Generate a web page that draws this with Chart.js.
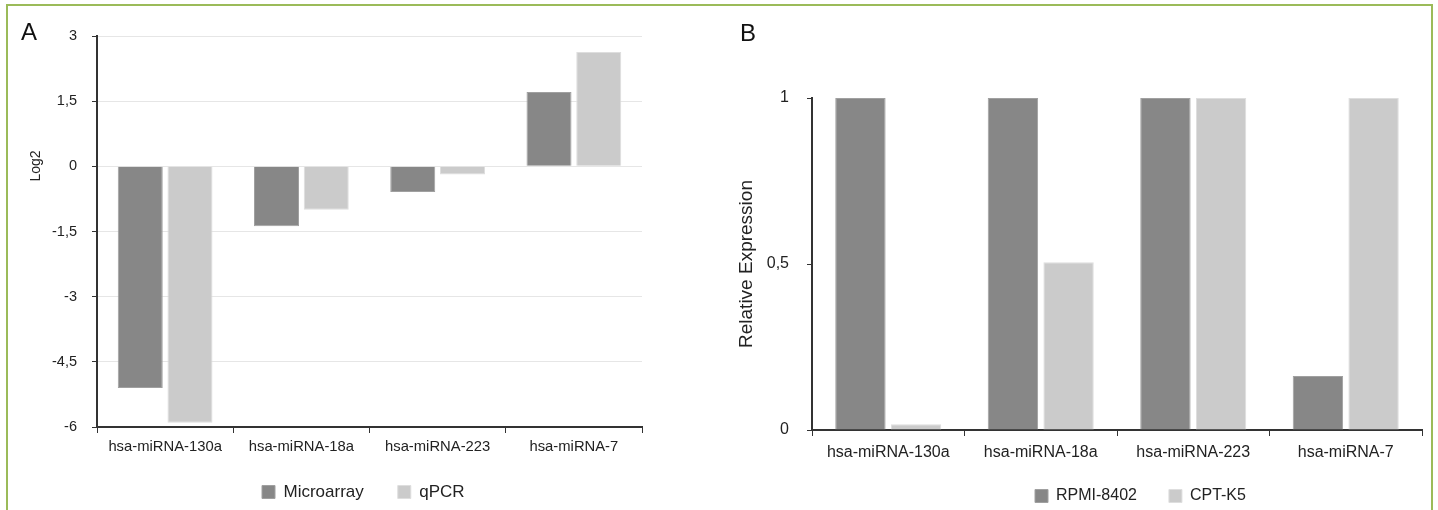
<!DOCTYPE html>
<html><head><meta charset="utf-8">
<script src="https://cdn.jsdelivr.net/npm/chart.js@4.4.0/dist/chart.umd.min.js"></script>
<style>
html,body{margin:0;padding:0;background:#fff;width:1438px;height:510px;overflow:hidden;font-family:'Liberation Sans',Arial,sans-serif;}
#frame{position:absolute;left:6px;top:4px;width:1423px;height:620px;border:2px solid #9bbb59;}
.wrap{position:absolute;top:0;height:510px;}
#wa{left:0;width:720px}
#wb{left:720px;width:718px}
.plbl{position:absolute;color:#111;font-size:24px;line-height:1;}
#log2{position:absolute;left:35px;top:166px;transform:translate(-50%,-50%) rotate(-90deg);font-size:14px;color:#222;white-space:nowrap;line-height:1;}
</style></head>
<body>
<div id="frame"></div>
<div class="wrap" id="wa"><canvas id="ca" width="720" height="510"></canvas></div>
<div class="wrap" id="wb"><canvas id="cb" width="718" height="510"></canvas></div>
<div class="plbl" style="left:21px;top:20px">A</div>
<div class="plbl" style="left:740px;top:21px">B</div>
<div id="log2">Log2</div>
<script>
// ---- data ----
const categories = ['hsa-miRNA-130a', 'hsa-miRNA-18a', 'hsa-miRNA-223', 'hsa-miRNA-7'];
const microarray = [-5.1, -1.38, -0.59, 1.71];
const qpcr = [-5.9, -1.0, -0.19, 2.63];
const rpmi8402 = [1, 1, 1, 0.163];
const cptK5 = [0.017, 0.505, 1, 1];
const log2Ticks = [-6, -4.5, -3, -1.5, 0, 1.5, 3];
const relTicks = [0, 0.5, 1];
const seriesA = ['Microarray', 'qPCR'];
const seriesB = ['RPMI-8402', 'CPT-K5'];

// ---- style ----
const FONT = "'Liberation Sans', Arial, sans-serif";
const DARK = '#878787', DARK_EDGE = '#a0a0a0';
const LIGHT = '#cbcbcb', LIGHT_EDGE = '#dedede';
const AXIS = '#333333', GRID = '#e6e6e6', TXT = '#222222';
const H = 510;
const X_AXIS_H = 45;

const fmt = v => String(v).replace('.', ',');

const legendPlacer = {
  id: 'legendPlacer',
  afterLayout(chart, args, opts) {
    const lg = chart.legend;
    if (!lg || opts.x == null) return;
    const pad = opts.pad, itemH = Math.max(opts.fs, opts.box);
    const dx = opts.x - (lg.left + pad);
    const dy = opts.cy - (lg.top + pad + itemH / 2);
    lg.left += dx; lg.right += dx; lg.top += dy;
    lg.bottom = lg.top + 400; // keep the clip region around the shifted row
  }
};

function makeChart(id, cfg) {
  const legMax = H - cfg.bottom - X_AXIS_H;
  return new Chart(document.getElementById(id), {
    type: 'bar',
    data: {
      labels: categories,
      datasets: [
        { label: cfg.names[0], data: cfg.s1, backgroundColor: DARK, borderColor: DARK_EDGE, borderWidth: 1,
          categoryPercentage: 0.73, barPercentage: 0.905 },
        { label: cfg.names[1], data: cfg.s2, backgroundColor: LIGHT, borderColor: LIGHT_EDGE, borderWidth: 1,
          categoryPercentage: 0.73, barPercentage: 0.905 }
      ]
    },
    options: {
      responsive: false, animation: false, devicePixelRatio: 1,
      layout: { padding: { left: 0, top: cfg.top, right: cfg.padR, bottom: 0 } },
      plugins: {
        tooltip: { enabled: false },
        legend: {
          position: 'bottom', align: 'start', maxHeight: legMax,
          labels: { boxWidth: 13, boxHeight: 13, padding: cfg.legPad, color: TXT,
                    font: { family: FONT, size: cfg.legFs } }
        },
        legendPlacer: { x: cfg.legX, cy: cfg.legCy, pad: cfg.legPad, fs: cfg.legFs, box: 13 }
      },
      scales: {
        x: {
          grid: { display: true, drawOnChartArea: false, drawTicks: true, tickLength: 6, tickColor: AXIS, offset: true },
          border: { display: true, color: AXIS, width: 2 },
          ticks: { color: TXT, padding: cfg.xPad, maxRotation: 0, font: { family: FONT, size: cfg.xFs } },
          afterFit: s => { s.height = X_AXIS_H; }
        },
        y: {
          min: cfg.min, max: cfg.max,
          afterBuildTicks: s => { s.ticks = cfg.ticks.map(v => ({ value: v })); },
          grid: { display: true, drawOnChartArea: cfg.gridOn, color: GRID, lineWidth: 1, drawTicks: true, tickLength: 5, tickColor: AXIS },
          border: { display: true, color: AXIS, width: 2 },
          ticks: { color: TXT, padding: cfg.yPad, font: { family: FONT, size: cfg.yFs }, callback: v => fmt(v) },
          title: cfg.yTitle ? { display: true, text: cfg.yTitle, color: TXT, padding: { top: cfg.titlePad, bottom: 0 },
                                font: { family: FONT, size: 19 } } : { display: false },
          afterFit: s => { s.width = cfg.left; }
        }
      }
    },
    plugins: [legendPlacer]
  });
}

makeChart('ca', {
  names: seriesA, s1: microarray, s2: qpcr, ticks: log2Ticks, min: -6, max: 3,
  top: 36, bottom: 427, left: 97, padR: 720 - 642, gridOn: true,
  xFs: 14.8, xPad: 5.5, yFs: 14.5, yPad: 15,
  legFs: 17, legPad: 34, legX: 262, legCy: 492
});

makeChart('cb', {
  names: seriesB, s1: rpmi8402, s2: cptK5, ticks: relTicks, min: 0, max: 1,
  top: 98, bottom: 430, left: 92, padR: 718 - 702, gridOn: false,
  xFs: 16, xPad: 6.5, yFs: 16, yPad: 18,
  yTitle: 'Relative Expression', titlePad: 15.6,
  legFs: 16, legPad: 32, legX: 1035 - 720, legCy: 496
});
</script>
</body></html>
